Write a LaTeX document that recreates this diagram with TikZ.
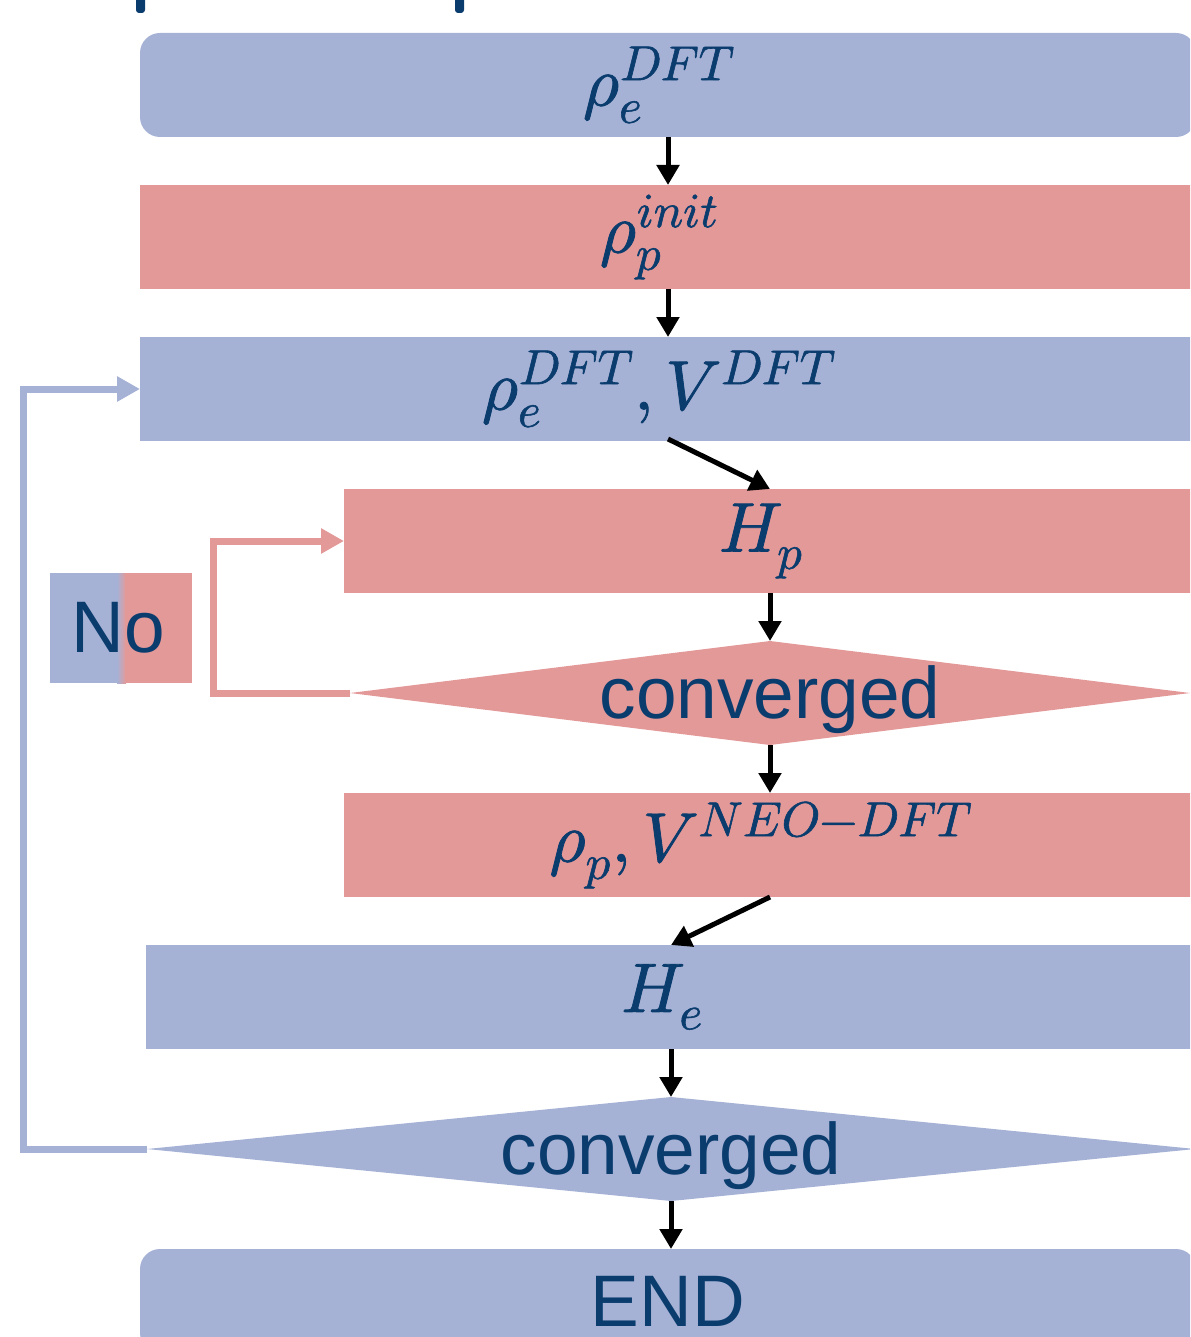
\documentclass[tikz,border=0pt]{standalone}
\usepackage{fontspec}
\usepackage{unicode-math}
\setmainfont{Liberation Sans}
\setmathfont{Latin Modern Math}[FakeBold=1.2]
\usetikzlibrary{shapes.geometric,arrows.meta}

\definecolor{eblue}{RGB}{166,178,213}
\definecolor{ppink}{RGB}{228,153,153}
\definecolor{ink}{RGB}{10,60,110}

% formula set a little left of the box centre and lowered a touch
\newcommand{\stagetext}[1]{\raisebox{-5pt}{$#1$}\kern18pt}

\tikzset{
  x=1pt, y=-1pt,
  stage/.style={draw=none, inner sep=0pt, outer sep=0pt, minimum height=104,
                anchor=north west, text=ink, font=\fontsize{70}{76}\selectfont},
  ebox/.style={stage, fill=eblue},
  pbox/.style={stage, fill=ppink},
  check/.style={diamond, draw=none, inner sep=0pt, outer sep=0pt, aspect=1,
                minimum height=104, text=ink},
  plain/.style={text=ink, font=\fontsize{73}{80}\selectfont},
  flow/.style={line width=5pt, draw=black, -{Triangle[length=20pt,width=22pt]}},
  loopp/.style={line width=7pt, draw=ppink, -{Triangle[length=23pt,width=24pt]}},
  loope/.style={line width=7pt, draw=eblue, -{Triangle[length=23pt,width=24pt]}},
}

\begin{document}
\begin{tikzpicture}
\useasboundingbox (0,0) rectangle (1190,1337);
\clip (0,0) rectangle (1190,1337);

% strokes of the heading above the chart
\fill[ink, rounded corners=3pt] (136,-10) rectangle (145,13);
\fill[ink, rounded corners=3pt] (455,-10) rectangle (464,13);

% electronic / protonic stages
\node[ebox, rounded corners=20pt, minimum width=1056] (b1) at (140,33) {\stagetext{\rho_e^{DFT}}};
\node[pbox, minimum width=1056] (b2) at (140,185) {\stagetext{\rho_p^{init}}};
\node[ebox, minimum width=1056] (b3) at (140,337) {\stagetext{\rho_e^{DFT},V^{DFT}}};
\node[pbox, minimum width=852] (b4) at (344,489) {\stagetext{H_p}};
\node[check, fill=ppink, minimum width=840] (d1) at (770,693)
  {\smash{\makebox[0pt]{\raisebox{-25pt}{\fontsize{73}{80}\selectfont converged}}}};
\node[pbox, minimum width=852] (b6) at (344,793) {\stagetext{\rho_p,V^{NEO-DFT}}};
\node[ebox, minimum width=1050] (b7) at (146,945) {\stagetext{H_e}};
\node[check, fill=eblue, minimum width=1048] (d2) at (671,1149)
  {\smash{\makebox[0pt]{\raisebox{-25pt}{\fontsize{73}{80}\selectfont converged}}}};
\node[ebox, rounded corners=20pt, minimum width=1056, font=\fontsize{73}{80}\selectfont] (b9) at (140,1249) {END};

% "No" tag, blue fading into pink
\fill[eblue] (50,573) rectangle (118,683);
\shade[left color=eblue, right color=ppink] (117,573) rectangle (126,683);
\fill[ppink] (125,573) rectangle (192,683);
\node[plain, inner sep=0pt, minimum width=142, minimum height=110] (no) at (118,628) {No};

% main flow
\draw[flow] (b1.south) -- (b2.north);
\draw[flow] (b2.south) -- (b3.north);
\draw[flow] ([yshift=2]b3.south) -- (b4.north);
\draw[flow] (b4.south) -- (d1.north);
\draw[flow] (d1.south) -- (b6.north);
\draw[flow] (b6.south) -- (b7.north);
\draw[flow] (b7.south) -- (d2.north);
\draw[flow] (d2.south) -- (d2.south |- b9.north);

% feedback loops
\draw[loopp] (d1.west) -- ++(-137,0) |- (b4.west);
\draw[loope] (d2.west) -- ++(-124,0) |- (b3.west);
\end{tikzpicture}
\end{document}
